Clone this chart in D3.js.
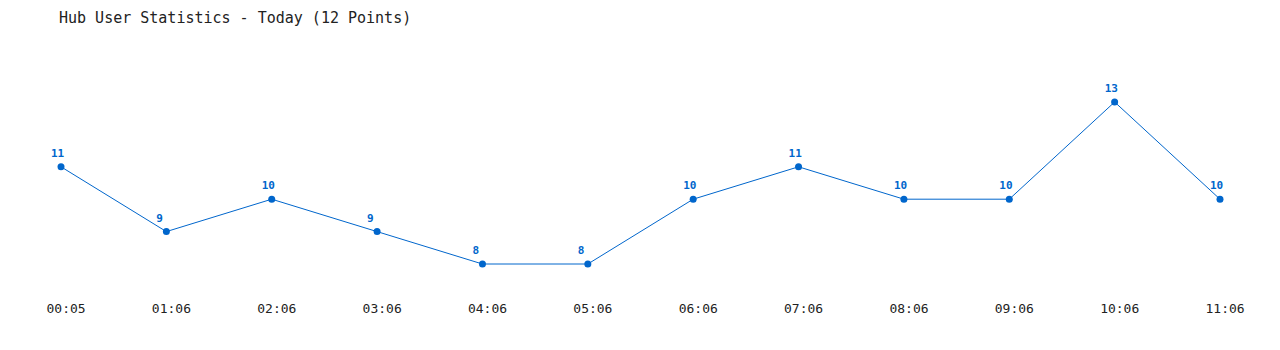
<!DOCTYPE html>
<html>
<head>
<meta charset="utf-8">
<script src="https://cdn.jsdelivr.net/npm/d3@7"></script>
<style>
  html, body { margin: 0; padding: 0; background: #fff; }
  svg { display: block; }
</style>
</head>
<body>
<div id="chart"></div>
<script>
// Data
const times = ['00:05', '01:06', '02:06', '03:06', '04:06', '05:06', '06:06', '07:06', '08:06', '09:06', '10:06', '11:06'];
const users = [11, 9, 10, 9, 8, 8, 10, 11, 10, 10, 13, 10];
const chartTitle = 'Hub User Statistics - Today (12 Points)';

const width = 1280;
const height = 350;
const mono = '"DejaVu Sans Mono", "Liberation Mono", monospace';
const blue = '#0066cc';
const textColor = '#222';

const svg = d3.select('#chart')
  .append('svg')
  .attr('width', width)
  .attr('height', height);

/* Title */
svg.append('text')
  .attr('x', 59)
  .attr('y', 23)
  .attr('fill', textColor)
  .attr('font-family', mono)
  .attr('font-size', 15)
  .text(chartTitle);

/* Scales */
const x = d3.scalePoint().domain(times).range([61, 1220]);
const y = d3.scaleLinear().domain([8, 13]).range([264, 102]);

/* X axis (labels only) */
const xAxis = svg.append('g')
  .attr('transform', 'translate(0, 300)')
  .call(d3.axisBottom(x).tickSize(0).tickPadding(0));

xAxis.select('.domain').remove();
xAxis.selectAll('text')
  .attr('x', -15)
  .attr('y', 13)
  .attr('dy', null)
  .attr('text-anchor', 'start')
  .attr('fill', textColor)
  .attr('font-family', mono)
  .attr('font-size', 13);

const points = times.map((t, i) => ({ t, v: users[i] }));

/* Line */
const line = d3.line()
  .x((d) => x(d.t))
  .y((d) => y(d.v));

svg.append('path')
  .datum(points)
  .attr('fill', 'none')
  .attr('stroke', blue)
  .attr('stroke-width', 1)
  .attr('d', line);

/* Dots */
svg.selectAll('circle.pt')
  .data(points)
  .join('circle')
  .attr('class', 'pt')
  .attr('cx', (d) => x(d.t))
  .attr('cy', (d) => y(d.v))
  .attr('r', 3.5)
  .attr('fill', blue);

/* Value labels */
svg.selectAll('text.val')
  .data(points)
  .join('text')
  .attr('class', 'val')
  .attr('x', (d) => x(d.t) - 10)
  .attr('y', (d) => y(d.v) - 10)
  .attr('fill', blue)
  .attr('font-family', mono)
  .attr('font-size', 11)
  .attr('font-weight', 'bold')
  .text((d) => d.v);
</script>
</body>
</html>
